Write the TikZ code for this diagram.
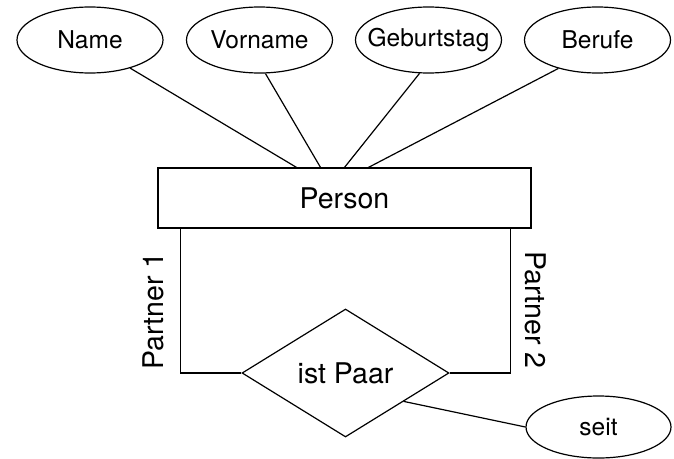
\documentclass[tikz,border=0pt]{standalone}
\usepackage{fontspec}
\setmainfont{TeX Gyre Heros}
\usetikzlibrary{shapes.geometric,calc}

\tikzset{
  big/.style={font=\fontsize{28.5}{34}\selectfont},
  small/.style={font=\fontsize{24.5}{29}\selectfont},
  attrib/.style={ellipse, draw, small, inner sep=0pt,
    minimum width=146pt, minimum height=66pt},
  entity/.style={rectangle, draw, big, minimum width=373pt, minimum height=60pt},
  relation/.style={diamond, draw, big, inner sep=0pt,
    minimum width=207pt, minimum height=128pt}
}

\begin{document}
\begin{tikzpicture}[x=1pt,y=-1pt,line width=1.2pt]
\useasboundingbox (0,0) rectangle (674,458);

\node[attrib] (name) at (90,40) {Name};
\node[attrib] (vorname) at (259.5,40) {Vorname};
\node[attrib,inner xsep=-10pt] (geburtstag) at (428.5,40) {Geburtstag};
\node[attrib] (berufe) at (597.5,40) {Berufe};

\node[entity] (person) at (344.5,198) {Person};
\node[relation] (paar) at (345.5,373) {ist Paar};
\node[attrib,minimum width=145pt,minimum height=62pt] (seit) at (598.5,427) {seit};

\node[big,rotate=90] (p1) at (153,311) {Partner 1};
\node[big,rotate=-90] (p2) at (536,310) {Partner 2};

\foreach \n/\a/\d in {name/-35/-48, vorname/-80/-24, geburtstag/-105/0, berufe/-144/24}
  \draw (\n.\a) -- ($(person.north)+(\d,0)$);

\draw (person.south west) ++(23,0) |- (paar.west);
\draw (person.south east) ++(-21,0) |- (paar.east);
\draw ($(paar.east)!0.44!(paar.south)$) -- (seit.west);

\end{tikzpicture}
\end{document}
